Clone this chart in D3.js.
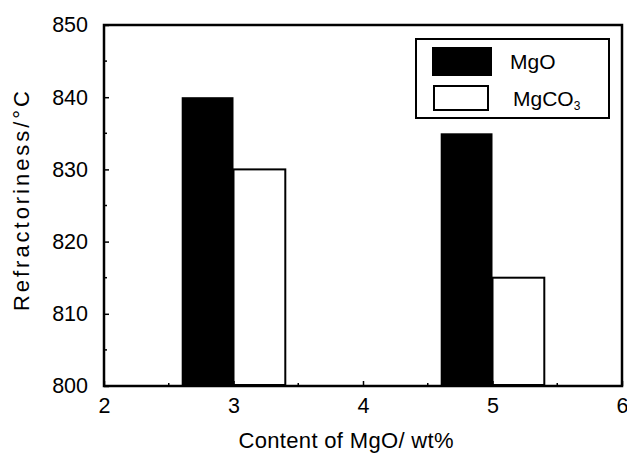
<!DOCTYPE html>
<html>
<head>
<script src="https://d3js.org/d3.v7.min.js"></script>
<style>
  body { margin: 0; background: #fff; }
  text { font-family: "Liberation Sans", Arial, sans-serif; fill: #000; }
  .tick text { font-size: 21.5px; }
  .axis_title { font-size: 22px; }
  .legend text { font-size: 21px; }
</style>
</head>
<body>
<script>
  // refractoriness vs additive content
  var contents = [3, 5];
  var mgo = [840, 835];
  var mgco3 = [830, 815];
  var xTicks = [2, 3, 4, 5, 6];
  var yTicks = [800, 810, 820, 830, 840, 850];
  var seriesNames = ["MgO", "MgCO3"];

  var width = 627, height = 455;
  var margin = { top: 25, right: 5, bottom: 69, left: 104 };
  var barW = 0.4;

  var svg = d3.select("body").append("svg")
    .attr("width", width)
    .attr("height", height);

  var x = d3.scaleLinear().domain([2, 6]).range([margin.left, width - margin.right]);
  var y = d3.scaleLinear().domain([800, 850]).range([height - margin.bottom, margin.top]);

  // bars
  svg.selectAll("rect.mgo")
    .data(contents)
    .enter().append("rect")
    .attr("class", "mgo")
    .attr("x", function(d) { return x(d - barW); })
    .attr("width", function(d) { return x(d) - x(d - barW); })
    .attr("y", function(d, i) { return y(mgo[i]); })
    .attr("height", function(d, i) { return y(800) - y(mgo[i]); })
    .attr("fill", "#000");

  svg.selectAll("rect.mgco3")
    .data(contents)
    .enter().append("rect")
    .attr("class", "mgco3")
    .attr("x", function(d) { return x(d); })
    .attr("width", function(d) { return x(d + barW) - x(d); })
    .attr("y", function(d, i) { return y(mgco3[i]); })
    .attr("height", function(d, i) { return y(800) - y(mgco3[i]) - 1; })
    .attr("fill", "#fff")
    .attr("stroke", "#000")
    .attr("stroke-width", 2);

  // axes (ticks point inward)
  var xAxis = d3.axisBottom(x).tickValues(xTicks).tickSize(-5).tickPadding(12).tickFormat(d3.format("d"));
  var yAxis = d3.axisLeft(y).tickValues(yTicks).tickSize(-5).tickPadding(16).tickFormat(d3.format("d"));

  var gx = svg.append("g")
    .attr("transform", "translate(0," + y(800) + ")")
    .call(xAxis);
  var gy = svg.append("g")
    .attr("transform", "translate(" + x(2) + ",0)")
    .call(yAxis);

  // minor ticks
  var xMinor = d3.range(2.5, 6, 1);
  var yMinor = d3.range(805, 850, 10);
  svg.selectAll("line.xminor")
    .data(xMinor)
    .enter().append("line")
    .attr("x1", function(d) { return x(d); })
    .attr("x2", function(d) { return x(d); })
    .attr("y1", y(800))
    .attr("y2", y(800) - 3)
    .attr("stroke", "#000")
    .attr("stroke-width", 1.5);
  svg.selectAll("line.yminor")
    .data(yMinor)
    .enter().append("line")
    .attr("x1", x(2))
    .attr("x2", x(2) + 3)
    .attr("y1", function(d) { return y(d); })
    .attr("y2", function(d) { return y(d); })
    .attr("stroke", "#000")
    .attr("stroke-width", 1.5);

  [gx, gy].forEach(function(g) {
    g.select(".domain").remove();
    g.selectAll(".tick line").attr("stroke-width", 1.5);
  });

  // frame
  svg.append("rect")
    .attr("x", x(2))
    .attr("y", y(850))
    .attr("width", x(6) - x(2))
    .attr("height", y(800) - y(850))
    .attr("fill", "none")
    .attr("stroke", "#000")
    .attr("stroke-width", 2.5);

  // axis titles
  svg.append("text")
    .attr("class", "axis_title")
    .attr("x", 346)
    .attr("y", 448)
    .attr("text-anchor", "middle")
    .attr("textLength", 215)
    .attr("lengthAdjust", "spacing")
    .text("Content of MgO/ wt%");

  svg.append("text")
    .attr("class", "axis_title")
    .attr("transform", "translate(29,201) rotate(-90)")
    .attr("text-anchor", "middle")
    .attr("textLength", 220)
    .attr("lengthAdjust", "spacing")
    .text("Refractoriness/°C");

  // legend
  var legend = svg.append("g").attr("class", "legend");
  legend.append("rect")
    .attr("x", 416).attr("y", 39)
    .attr("width", 193).attr("height", 79)
    .attr("fill", "#fff")
    .attr("stroke", "#000")
    .attr("stroke-width", 2);
  legend.append("rect")
    .attr("x", 432).attr("y", 47)
    .attr("width", 60).attr("height", 29)
    .attr("fill", "#000");
  legend.append("rect")
    .attr("x", 434).attr("y", 86)
    .attr("width", 54).attr("height", 24)
    .attr("fill", "#fff")
    .attr("stroke", "#000")
    .attr("stroke-width", 2);
  legend.append("text")
    .attr("x", 510).attr("y", 69)
    .text(seriesNames[0]);
  var t2 = legend.append("text")
    .attr("x", 513).attr("y", 106);
  t2.append("tspan").text("MgCO");
  t2.append("tspan").attr("font-size", "12px").attr("dy", 4).text("3");
</script>
</body>
</html>
